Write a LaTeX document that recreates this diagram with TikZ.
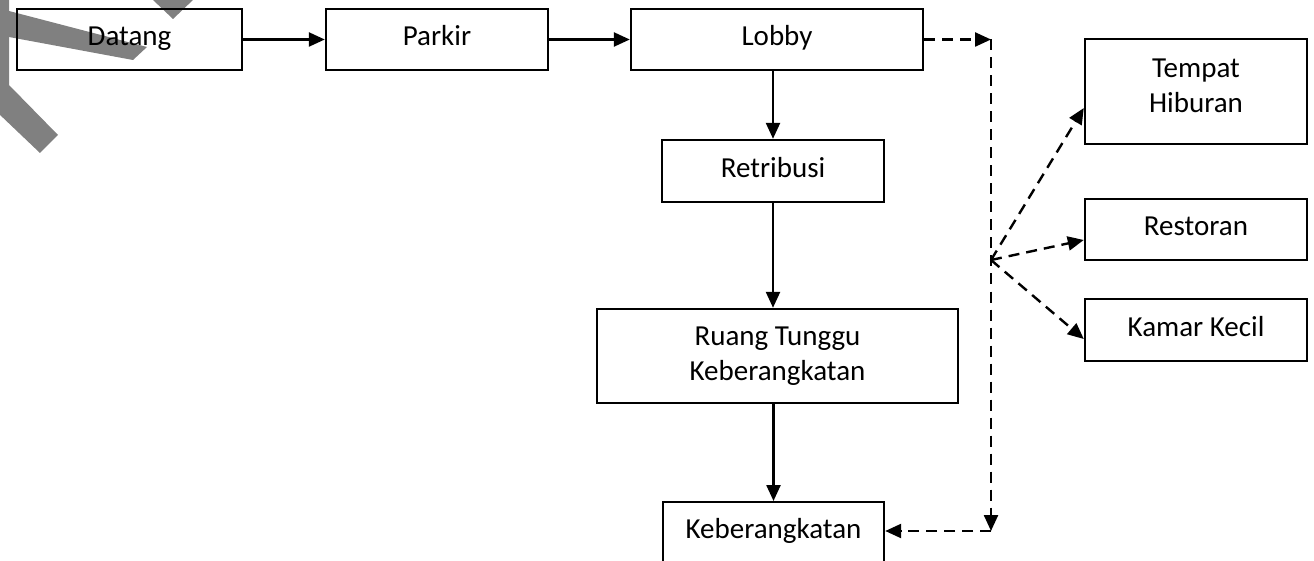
\documentclass[tikz,border=0pt]{standalone}
\usepackage{fontspec}
\setmainfont{Carlito}
\usetikzlibrary{arrows.meta}
\tikzset{
  box/.style={draw=black, line width=2.4pt, rectangle, inner sep=0pt, align=center,
    font=\fontsize{29}{35}\selectfont},
  one/.style={text height=20pt, text depth=7pt},
  lbl/.style={inner sep=0pt, align=center, font=\fontsize{29}{35}\selectfont},
  conn/.style={line width=2.4pt, -{Triangle[length=16pt,width=14pt]}},
  dconn/.style={conn, dash pattern=on 11pt off 7pt},
  wm/.style={fill=gray, draw=none}
}
\begin{document}
\begin{tikzpicture}[x=1pt,y=-1pt]
\useasboundingbox (0,0) rectangle (1314,561);
\clip (0,0) rectangle (1314,561);
% watermark fragments
\fill[wm] (-2,0) -- (9,0) -- (9,85) -- (58,135) -- (40,153) -- (-2,113) -- cycle;
\fill[wm] (9,11) -- (147,47) -- (133,60) -- (9,37) -- cycle;
\fill[wm] (153,0) -- (193,0) -- (173,19) -- cycle;
% boxes
\node[box, one, minimum width=225pt, minimum height=61pt] (datang) at (129.5,39.5) {Datang};
\node[box, one, minimum width=222pt, minimum height=61pt] (parkir) at (437,39.5) {Parkir};
\node[box, one, minimum width=292pt, minimum height=61pt] (lobby) at (777,39.5) {Lobby};
\node[box, one, minimum width=222pt, minimum height=62pt] (retri) at (773,171) {Retribusi};
\node[box, minimum width=361pt, minimum height=94pt] (ruang) at (777.5,356) {Ruang Tunggu\\Keberangkatan};
\node[box, anchor=north, minimum width=221pt, text height=22pt, text depth=40pt, inner ysep=14pt] (keb) at (773.5,501) {Keberangkatan};
\node[box, minimum width=222pt, minimum height=105pt] (hib) at (1196,91.5) {};
\node[lbl] (hibtext) at (1196,86) {Tempat\\Hiburan};
\node[box, one, minimum width=222pt, minimum height=61pt] (rest) at (1196,229.5) {Restoran};
\node[box, one, minimum width=222pt, minimum height=62pt] (kamar) at (1196,330) {Kamar Kecil};
% helper points
\coordinate (ctop) at (991,39.5);
\coordinate (cbot) at (991,531);
\coordinate (fan) at (991,260);
% solid connectors
\draw[conn] (datang.east) -- (parkir.west);
\draw[conn] (parkir.east) -- (lobby.west);
\draw[conn] (retri.north |- lobby.south) -- (retri.north);
\draw[conn] (retri.south) -- (retri.south |- ruang.north);
\draw[conn] (keb.north |- ruang.south) -- (keb.north);
% dashed connectors
\draw[dconn] (lobby.east) -- (ctop);
\draw[dconn] (ctop) -- (cbot);
\draw[dconn] (cbot) -- (keb.east |- cbot);
\draw[dconn] (fan) -- ([yshift=-16.5pt]hib.west);
\draw[dconn] (fan) -- ([yshift=-10.5pt]rest.west);
\draw[dconn] (fan) -- ([yshift=-9pt]kamar.west);
\end{tikzpicture}
\end{document}
